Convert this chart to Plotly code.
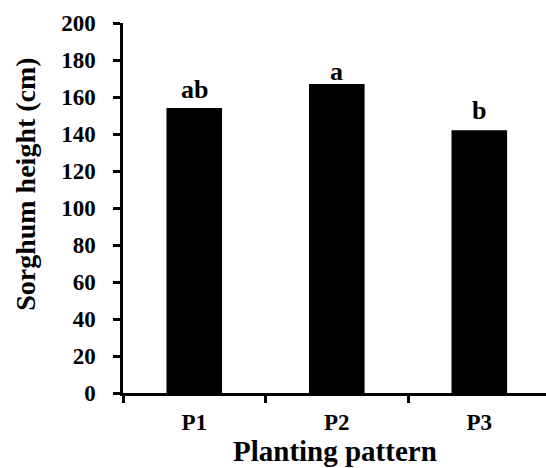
import plotly.graph_objects as go

# Sorghum plant height by planting pattern
patterns = ["P1", "P2", "P3"]
height_cm = [154, 167, 142]
group_letters = ["ab", "a", "b"]

y_ticks = [0, 20, 40, 60, 80, 100, 120, 140, 160, 180, 200]

FONT = "Liberation Serif"
W, H = 546, 468
L, R, T, B = 123.3, 0, 23.3, 74.7

fig = go.Figure()
fig.add_trace(go.Bar(
    x=patterns,
    y=height_cm,
    width=0.39,
    marker=dict(color="black", line=dict(width=0)),
    showlegend=False,
))

# significance letters above the bars (vertical gap in px)
letter_gap = [2.5, -3.5, 3.0]
for p, v, txt, g in zip(patterns, height_cm, group_letters, letter_gap):
    fig.add_annotation(
        x=p, y=v, xref="x", yref="y", text=f"<b>{txt}</b>",
        showarrow=False, yanchor="bottom", yshift=g,
        font=dict(family=FONT, size=26, color="black"),
    )

# axis titles
fig.add_annotation(
    x=-0.231, y=0.566, xref="paper", yref="paper",
    text="<b>Sorghum height (cm)</b>", textangle=-90, showarrow=False,
    xanchor="center", yanchor="middle",
    font=dict(family=FONT, size=28, color="black"),
)
fig.add_annotation(
    x=0.5, y=-0.206, xref="paper", yref="paper",
    text="<b>Planting pattern</b>", showarrow=False,
    xanchor="center", yanchor="bottom",
    font=dict(family=FONT, size=29, color="black"),
)

fig.update_xaxes(
    type="category",
    range=[-0.5, 2.468],
    tickvals=patterns,
    ticktext=[f"<b>{p}</b>" for p in patterns],
    showline=True, linecolor="black", linewidth=2.5,
    ticks="outside", tickson="boundaries", ticklen=7, tickwidth=2.5, tickcolor="black",
    tickfont=dict(family=FONT, size=23, color="black"),
    ticklabelstandoff=7,
    showgrid=False, zeroline=False,
)
fig.update_yaxes(
    range=[0, 200],
    tickvals=y_ticks,
    ticktext=[f"<b>{t}</b>" for t in y_ticks],
    showline=True, linecolor="black", linewidth=2.5,
    ticks="outside", ticklen=7, tickwidth=2.5, tickcolor="black",
    tickfont=dict(family=FONT, size=23, color="black"),
    ticklabelstandoff=13,
    showgrid=False, zeroline=False,
)

fig.update_layout(
    width=W, height=H,
    margin=dict(l=L, r=R, t=T, b=B, pad=0),
    paper_bgcolor="white", plot_bgcolor="white",
)

fig.write_html("out.html")
